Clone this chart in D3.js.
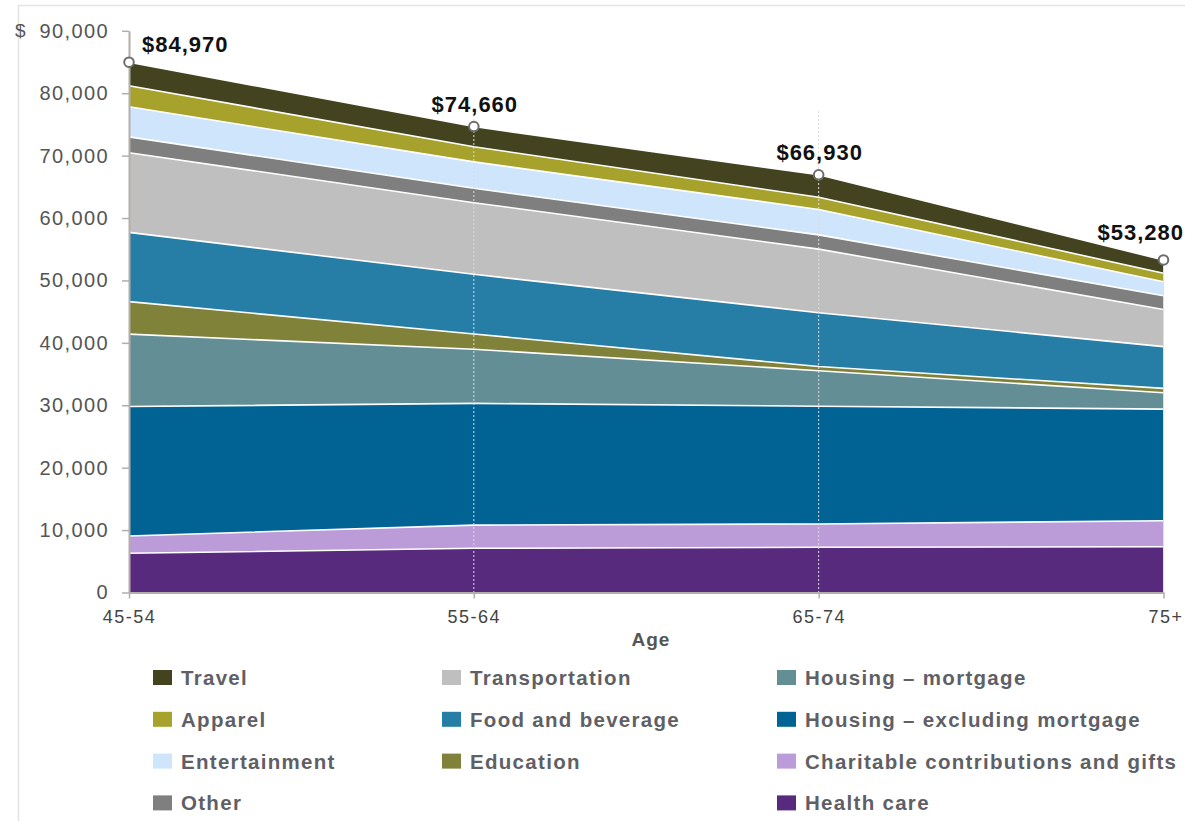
<!DOCTYPE html>
<html>
<head>
<meta charset="utf-8">
<script src="https://cdn.jsdelivr.net/npm/d3@7"></script>
<style>
html,body{margin:0;padding:0;background:#fff;}
svg{display:block;font-family:Arial,"Liberation Sans",sans-serif;}
</style>
</head>
<body>
<svg id="chart" width="1185" height="821"></svg>
<script>
// ---- data ----
const ages = ["45-54", "55-64", "65-74", "75+"];
const healthCare     = [6280, 7080, 7240, 7340];
const charitable     = [2770, 3720, 3740, 4160];
const housingExcl    = [20750, 19500, 18870, 17880];
const housingMort    = [11600, 8670, 5690, 2620];
const education      = [5200, 2450, 660, 700];
const foodBeverage   = [11100, 9560, 8630, 6700];
const transportation = [12770, 11480, 10190, 5950];
const other          = [2530, 2300, 2280, 2210];
const entertainment  = [4840, 4240, 4080, 2240];
const apparel        = [3360, 2430, 1950, 1350];
const travel         = [3770, 3230, 3600, 2130];
const totals         = [84970, 74660, 66930, 53280];
const totalLabels    = ["$84,970", "$74,660", "$66,930", "$53,280"];
const yTicks         = [0, 10000, 20000, 30000, 40000, 50000, 60000, 70000, 80000, 90000];

// stacking order bottom -> top
const seriesNames = ["Health care", "Charitable contributions and gifts", "Housing – excluding mortgage",
  "Housing – mortgage", "Education", "Food and beverage", "Transportation", "Other",
  "Entertainment", "Apparel", "Travel"];
const seriesValues = [healthCare, charitable, housingExcl, housingMort, education, foodBeverage,
  transportation, other, entertainment, apparel, travel];
const colors = {
  "Travel": "#43431F",
  "Apparel": "#A6A22C",
  "Entertainment": "#CFE5FB",
  "Other": "#7F7F7F",
  "Transportation": "#BFBFBF",
  "Food and beverage": "#267DA6",
  "Education": "#7F8238",
  "Housing – mortgage": "#638E96",
  "Housing – excluding mortgage": "#006394",
  "Charitable contributions and gifts": "#BC9BD9",
  "Health care": "#582A7E"
};
// legend columns (top to bottom)
const legendCols = [
  ["Travel", "Apparel", "Entertainment", "Other"],
  ["Transportation", "Food and beverage", "Education"],
  ["Housing – mortgage", "Housing – excluding mortgage", "Charitable contributions and gifts", "Health care"]
];

const table = ages.map((a, i) => {
  const row = {age: a};
  seriesNames.forEach((n, k) => row[n] = seriesValues[k][i]);
  return row;
});

const svg = d3.select("#chart");

// frame
svg.append("path").attr("d", "M18.5,821 L18.5,5.5 L1185,5.5")
  .attr("fill", "none").attr("stroke", "#e3e3e3").attr("stroke-width", 1.5);

const x = d3.scalePoint().domain(ages).range([129, 1163.5]);
const y = d3.scaleLinear().domain([0, 90000]).range([592.5, 30.8]);

const stack = d3.stack().keys(seriesNames);
const layers = stack(table);

const area = d3.area()
  .x(d => x(d.data.age))
  .y0(d => y(d[0]))
  .y1(d => y(d[1]));

svg.append("g").selectAll("path").data(layers).join("path")
  .attr("d", area)
  .attr("fill", d => colors[d.key]);

// white separators
const topLine = d3.line().x(d => x(d.data.age)).y(d => y(d[1]));
svg.append("g").selectAll("path").data(layers).join("path")
  .attr("d", topLine)
  .attr("fill", "none")
  .attr("stroke", "#fff")
  .attr("stroke-width", 1.6);

// dashed vertical gridlines
svg.append("g").selectAll("line").data(ages.slice(1, 3)).join("line")
  .attr("x1", d => x(d)).attr("x2", d => x(d))
  .attr("y1", 111).attr("y2", y(0))
  .attr("stroke", "#dcdcdc").attr("stroke-width", 1)
  .attr("stroke-dasharray", "2,2");
svg.append("line")
  .attr("x1", x(ages[3])).attr("x2", x(ages[3]))
  .attr("y1", y(totals[3])).attr("y2", y(0))
  .attr("stroke", "#e0e0e0").attr("stroke-width", 1);

// axes
const axisColor = "#b3aeaa";
const yAxis = svg.append("g").attr("transform", `translate(${x(ages[0])},0)`)
  .call(d3.axisLeft(y).tickValues(yTicks).tickFormat(d3.format(",")).tickSize(7).tickSizeOuter(0).tickPadding(13));
yAxis.select(".domain").attr("stroke", axisColor).attr("stroke-width", 2);
yAxis.selectAll(".tick line").attr("stroke", axisColor).attr("stroke-width", 1.5);
yAxis.selectAll("text").attr("font-size", 20).attr("fill", "#555").attr("letter-spacing", 1.4)
  .attr("font-family", "Arial, 'Liberation Sans', sans-serif");

const xAxis = svg.append("g").attr("transform", `translate(0,${y(0)})`)
  .call(d3.axisBottom(x).tickSize(6).tickPadding(12).tickSizeOuter(0));
xAxis.select(".domain").attr("stroke", axisColor).attr("stroke-width", 2);
xAxis.selectAll(".tick line").attr("stroke", axisColor).attr("stroke-width", 1.5);
xAxis.selectAll("text").attr("font-size", 18).attr("fill", "#444").attr("letter-spacing", 1.5)
  .attr("font-family", "Arial, 'Liberation Sans', sans-serif");
xAxis.selectAll(".tick").filter(d => d === "75+").select("text").attr("dx", 2);

// axis titles
svg.append("text").attr("x", 15).attr("y", 37).text("$")
  .attr("font-size", 19).attr("fill", "#555");
svg.append("text").attr("x", 651).attr("y", 646).attr("text-anchor", "middle").text("Age")
  .attr("font-size", 19).attr("font-weight", "bold").attr("fill", "#555").attr("letter-spacing", 1);

// total markers and labels
const tg = svg.append("g");
tg.selectAll("circle").data(totals).join("circle")
  .attr("cx", (d, i) => x(ages[i])).attr("cy", d => y(d)).attr("r", 4.8)
  .attr("fill", "#fff").attr("stroke", "#6d6d6d").attr("stroke-width", 2);
tg.selectAll("text").data(totals).join("text")
  .attr("x", (d, i) => i === 0 ? x(ages[i]) + 13 : (i === 3 ? 1184 : x(ages[i]) + 1))
  .attr("y", (d, i) => i === 0 ? y(d) - 10 : (i === 3 ? y(d) - 20 : y(d) - 15))
  .attr("text-anchor", (d, i) => i === 0 ? "start" : (i === 3 ? "end" : "middle"))
  .attr("font-size", 22).attr("font-weight", "bold").attr("fill", "#111").attr("letter-spacing", 1)
  .text((d, i) => totalLabels[i]);

// legend
const colX = [153, 442, 777];
const rowY0 = 677.5, rowStep = 41.8;
legendCols.forEach((col, ci) => {
  const g = svg.append("g");
  col.forEach((name, ri) => {
    const cy = rowY0 + ri * rowStep;
    g.append("rect").attr("x", colX[ci]).attr("y", cy - 7.5).attr("width", 19).attr("height", 15)
      .attr("fill", colors[name]);
    g.append("text").attr("x", colX[ci] + 28).attr("y", cy + 7.5)
      .attr("font-size", 20.5).attr("font-weight", "bold").attr("fill", "#5f5f66")
      .attr("letter-spacing", 1.3).text(name);
  });
});
</script>
</body>
</html>
